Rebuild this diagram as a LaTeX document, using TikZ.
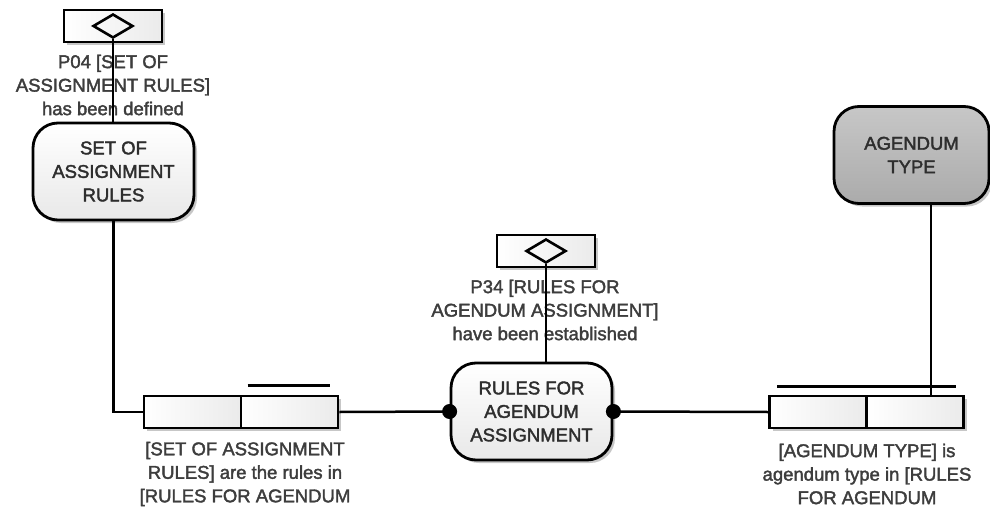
\documentclass[tikz,border=0pt]{standalone}
\usepackage{fontspec}
\setmainfont{Liberation Sans}
\newfontfamily\labelfont{Liberation Sans}[FakeBold=2]
\usetikzlibrary{shapes.geometric,shadows}
\begin{document}
\begin{tikzpicture}[x=1pt,y=-1pt,
  font=\labelfont\fontsize{18.5}{23.5}\selectfont,
  softshadow/.style={drop shadow={shadow xshift=3pt,shadow yshift=-3pt,opacity=0.22,fill=black}},
  txt/.style={text=black!76, align=center, inner sep=0pt},
  entity/.style={draw=black, line width=2.8pt, rounded corners=25pt,
    minimum width=161pt, minimum height=97pt, inner sep=0pt,
    top color=white, bottom color=black!9, text=black!82, align=center, softshadow},
  keyentity/.style={entity, minimum width=155pt, top color=black!22, bottom color=black!33},
  halfbox/.style={draw=black, line width=2.8pt, minimum width=97pt, minimum height=32pt,
    inner sep=0pt, left color=white, right color=black!8, softshadow},
  eventbox/.style={draw=black, line width=2.8pt, minimum width=98pt, minimum height=32pt,
    inner sep=0pt, left color=white, right color=black!8, softshadow},
  eventmark/.style={draw=black, line width=2.6pt, shape=diamond, inner sep=0pt,
    minimum width=40pt, minimum height=24pt},
  conn/.style={draw=black, line width=2.5pt},
  joint/.style={fill=black}
]
\useasboundingbox (0,0) rectangle (990,508);

% entities
\node[entity] (set) at (113.5,171.5) {SET OF\\ASSIGNMENT\\RULES};
\node[entity] (rules) at (531.5,411.5) {RULES FOR\\AGENDUM\\ASSIGNMENT};
\node[keyentity] (agt) at (911.5,155) {AGENDUM\\TYPE};

% events
\node[eventbox] (p04) at (113,26) {};
\node[eventmark] (p04d) at (113,26) {};
\node[eventbox] (p34) at (546,251) {};
\node[eventmark] (p34d) at (546,251) {};

% relationship boxes
\node[halfbox] (relLa) at (192.5,412) {};
\node[halfbox] (relLb) at (289.5,412) {};
\node[halfbox] (relRa) at (818,412) {};
\node[halfbox] (relRb) at (915,412) {};

% labels
\node[txt] (p04t) at (113,85) {P04 [SET OF\\ASSIGNMENT RULES]\\has been defined};
\node[txt] (p34t) at (545,310) {P34 [RULES FOR\\AGENDUM ASSIGNMENT]\\have been established};
\node[txt] (rlt) at (245,474) {[SET OF ASSIGNMENT\\RULES] are the rules in\\{[}RULES FOR AGENDUM};
\node[txt] (rrt) at (867,474) {[AGENDUM TYPE] is\\agendum type in [RULES\\FOR AGENDUM};

% connectors
\coordinate (atp) at ([xshift=19.5pt]agt.south);
\draw[conn] (p04d.south) -- (p04d.south |- set.north);
\draw[conn] (set.south) |- (relLa.west);
\draw[conn] (relLb.east) -- (rules.west);
\draw[conn] (rules.east) -- (relRa.west);
\draw[conn] (p34d.south) -- (p34d.south |- rules.north);
\draw[conn] (atp) -- (atp |- relRb.north);

% role bars
\draw[conn] ([xshift=8pt,yshift=9pt]relLb.north west) -- ([xshift=-9pt,yshift=9pt]relLb.north east);
\draw[conn] ([xshift=9pt,yshift=8pt]relRa.north west) -- ([xshift=-9pt,yshift=8pt]relRb.north east);

% joints
\fill[joint] (rules.west) circle (7.5pt);
\fill[joint] (rules.east) circle (7.5pt);
\end{tikzpicture}
\end{document}
